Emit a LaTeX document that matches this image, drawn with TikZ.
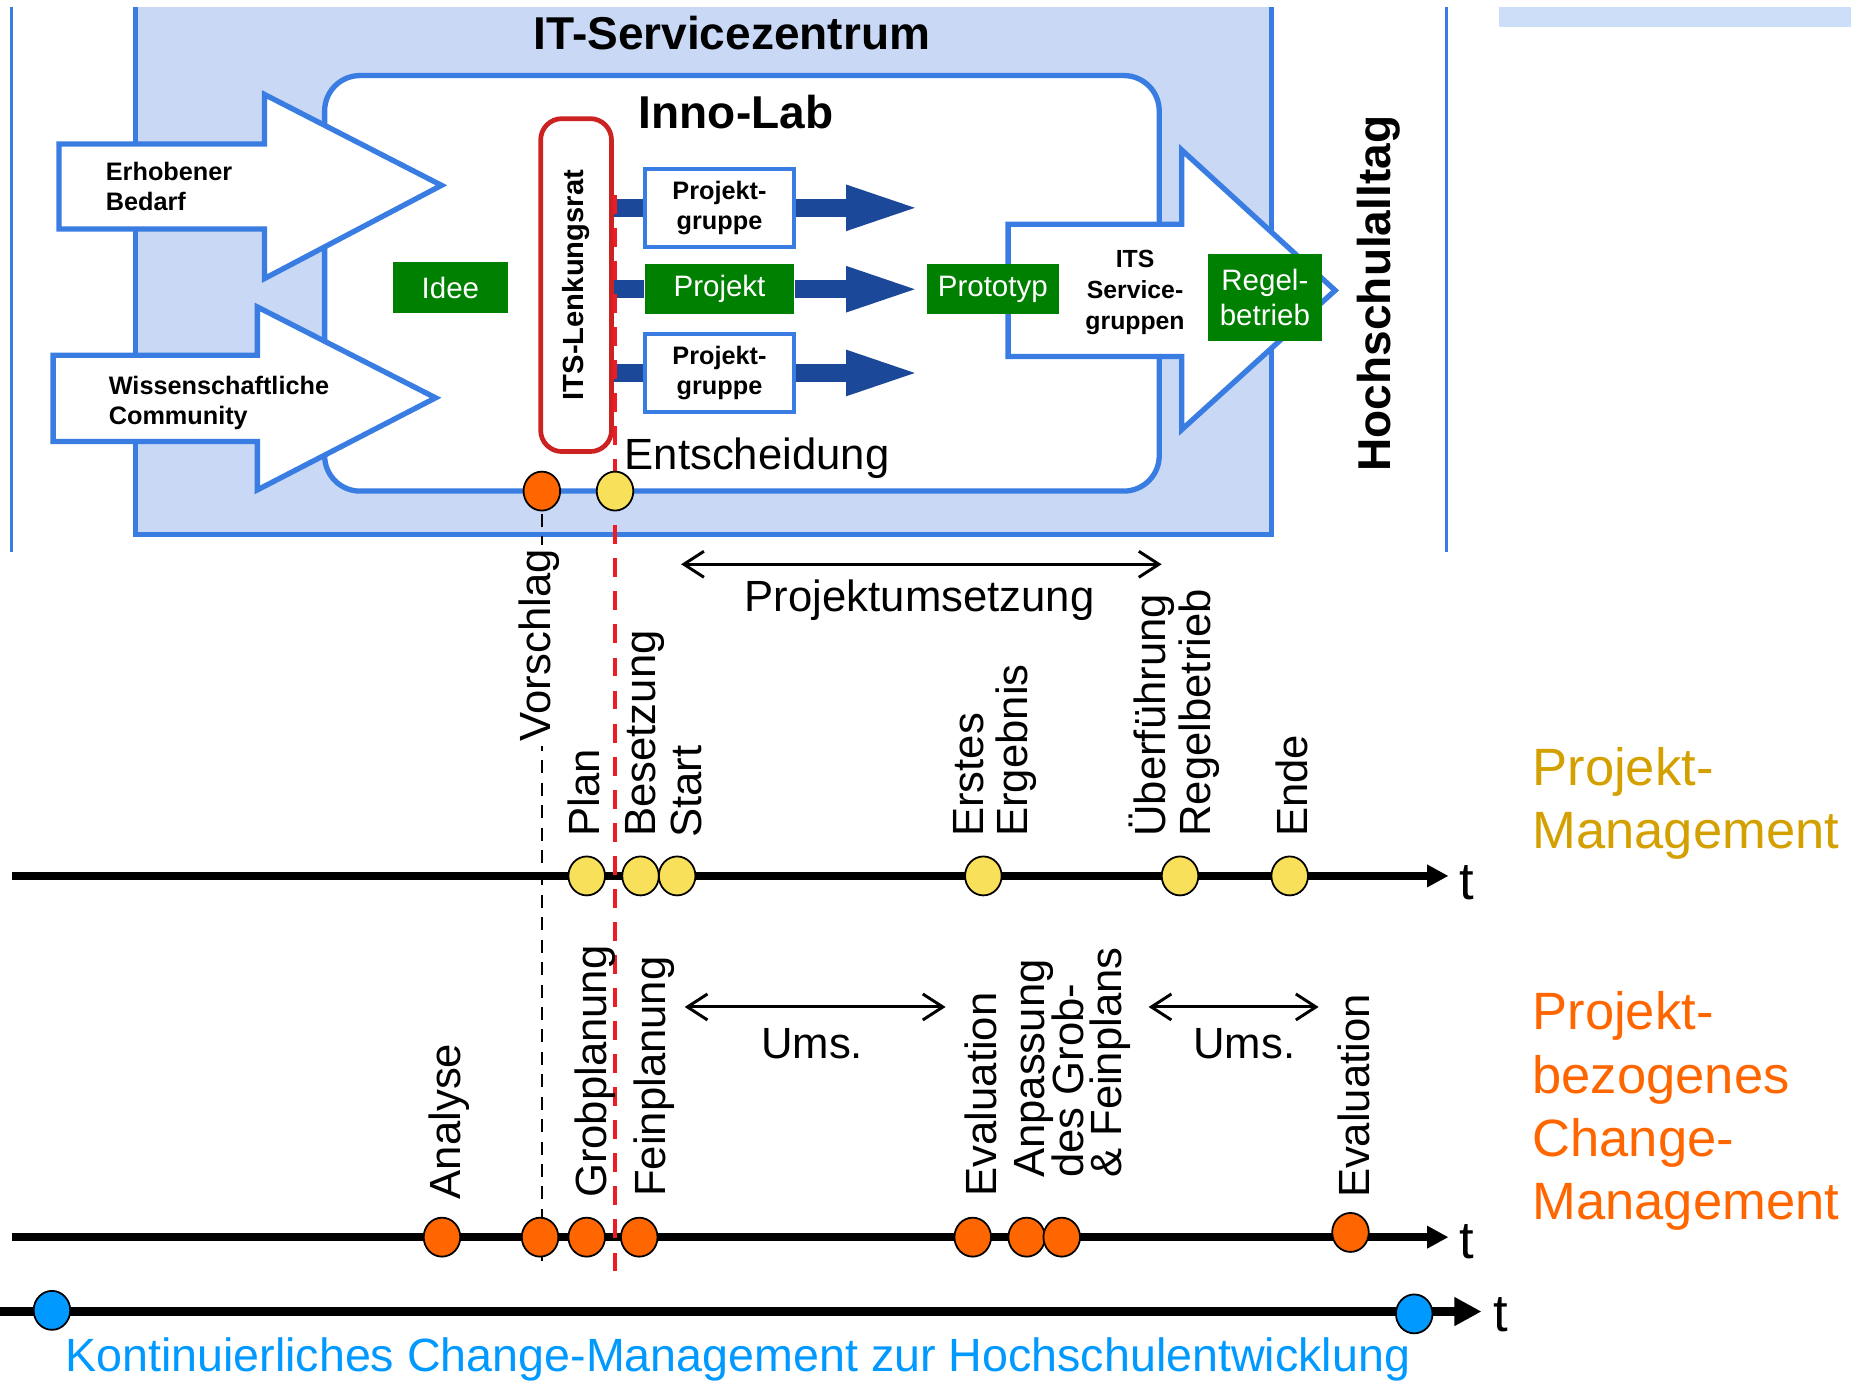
\documentclass[tikz,border=0pt]{standalone}
\usepackage{fontspec}
\setmainfont{Liberation Sans}
\usepackage{graphicx}
\usetikzlibrary{positioning, arrows.meta, shapes.geometric}

\newcommand\setfs[2]{\fontsize{#1}{#2}\selectfont\lineskiplimit=-100pt\relax}

\definecolor{itsblue}{RGB}{58,125,226}
\definecolor{itsfill}{RGB}{200,216,245}
\definecolor{stripblue}{RGB}{205,223,248}
\definecolor{pgblue}{RGB}{28,72,153}
\definecolor{itsgreen}{RGB}{0,128,0}
\definecolor{lrred}{RGB}{204,34,34}
\definecolor{decred}{RGB}{237,28,36}
\definecolor{pmyellow}{RGB}{249,224,90}
\definecolor{cmorange}{RGB}{255,102,0}
\definecolor{kcmblue}{RGB}{0,153,255}
\definecolor{pmgold}{RGB}{212,160,0}

\tikzset{
  itsline/.style={draw=itsblue, line width=4.5pt},
  blockarrow/.style={itsline, fill=white, line join=miter},
  hdr/.style={font=\bfseries\setfs{39}{39}, inner sep=0pt},
  smallbold/.style={font=\bfseries\setfs{21.4}{25.8}, inner sep=0pt, align=left},
  greenbox/.style={fill=itsgreen, text=white, font=\setfs{25}{30}, inner sep=0pt, align=center},
  groupbox/.style={draw=itsblue, line width=3.5pt, fill=white, font=\bfseries\setfs{21.4}{25.8},
    align=center, inner sep=0pt, minimum width=126pt, minimum height=66pt},
  pgshaft/.style={draw=pgblue, line width=15pt},
  pgarrow/.style={pgshaft, -{Triangle[length=64pt, width=34pt]}, shorten >=4pt},
  timeline/.style={line width=7pt, -{Triangle[length=18pt, width=18pt]}},
  tldot/.style={ellipse, draw, line width=1.5pt, minimum width=31pt, minimum height=33pt, inner sep=0pt},
  pmdot/.style={tldot, fill=pmyellow},
  cmdot/.style={tldot, fill=cmorange},
  kcmdot/.style={tldot, fill=kcmblue},
  lbl/.style={font=\setfs{37}{37}, inner sep=0pt},
  vlbl/.style={lbl, rotate=90, anchor=base west, align=left},
  spanarrow/.style={line width=2.5pt, {Straight Barb[length=17pt, width=22pt]}-{Straight Barb[length=17pt, width=22pt]}},
  phase/.style={font=\setfs{44.5}{53.5}, inner sep=0pt, align=left, anchor=base west},
  tlbl/.style={font=\setfs{44.5}{44.5}, inner sep=0pt, anchor=base west},
}

\begin{document}
\begin{tikzpicture}[x=1pt, y=-1pt]
  \useasboundingbox (0,0) rectangle (1568,1170);
  \fill[stripblue] (1270,6) rectangle (1568,23);
  \draw[itsline, line width=2.5pt] (10,6) -- (10,468);
  \draw[itsline, line width=2.5pt] (1225,6) -- (1225,468);

  \node (itsz) [fill=itsfill, minimum width=962.5pt, minimum height=447pt, anchor=north west, outer sep=0pt] at (114.5,6) {};
  \draw[itsline] (itsz.north west) -- (itsz.south west) -- (itsz.south east) -- (itsz.north east);
  \node (inno) [itsline, fill=white, rounded corners=30pt, minimum width=707pt, minimum height=352pt,
    anchor=north west, outer sep=0pt] at (275,64) {};
  \node (itsztitle) [hdr, anchor=base] at (620,42) {IT-Servicezentrum};
  \node (innotitle) [hdr, anchor=base] at (623.5,109) {Inno-Lab};

  \draw[blockarrow] (50,122) -- (224,122) -- (224,80) -- (374,157) -- (224,236) -- (224,194) -- (50,194) -- cycle;
  \draw[blockarrow] (45,301) -- (218,301) -- (218,260) -- (369,337) -- (218,415) -- (218,374) -- (45,374) -- cycle;
  \draw[blockarrow] (854,190) -- (1001,190) -- (1001,127) -- (1131,246) -- (1001,364) -- (1001,302) -- (854,302) -- cycle;
  \node (bedarf) [smallbold, anchor=base west] at (89.5,178.5) {Erhobener\\Bedarf};
  \node (community) [smallbold, anchor=base west] at (92,360) {Wissenschaftliche\\Community};
  \node (itsgrp) [smallbold, align=center, anchor=base, font=\bfseries\setfs{21}{26}] at (961.5,279) {ITS\\Service-\\gruppen};

  \node (idee) [greenbox, minimum width=97pt, minimum height=43pt] at (381.5,243.5) {Idee};
  \node (lr) [draw=lrred, line width=4pt, fill=white, rounded corners=18pt, minimum width=60pt, minimum height=282pt,
    font=\bfseries\setfs{24.7}{25}, inner sep=0pt] at (488,241.5) {\rotatebox{90}{ITS-Lenkungsrat}};
  \node (proj) [greenbox, minimum width=127pt, minimum height=42pt] at (609.5,245) {Projekt};
  \node (pg1) [groupbox, above=13pt of proj] {Projekt-\\gruppe};
  \node (pg2) [groupbox, below=15pt of proj] {Projekt-\\gruppe};
  \node (proto) [greenbox, minimum width=112pt, minimum height=42pt] at (841,245) {Prototyp};
  \node (regel) [greenbox, minimum width=97pt, minimum height=74pt] at (1071.5,252) {Regel-\\betrieb};

  \foreach \g in {pg1, proj, pg2} {
    \draw[pgshaft] (lr.east |- \g) -- (\g.west);
    \draw[pgarrow] (\g.east) -- (proto.west |- \g);
  }

  \node (alltag) [hdr, rotate=90, anchor=base west] at (1177.5,399.5) {Hochschulalltag};
  \node (entsch) [lbl, anchor=base west] at (529,398) {Entscheidung};

  \coordinate (vorx) at (459,416);
  \coordinate (vorend) at (459,1068);
  \coordinate (decx) at (521,165);
  \coordinate (decend) at (521,1078);
  \draw[line width=2.2pt, dash pattern=on 11pt off 8pt] (vorx) -- (vorend);

  \coordinate (pmL) at (10,742);
  \coordinate (pmR) at (1227,742);
  \coordinate (cmL) at (10,1048);
  \coordinate (cmR) at (1227,1048);
  \coordinate (kcmL) at (0,1111);
  \coordinate (kcmR) at (1255,1111);
  \draw[timeline] (pmL) -- (pmR);
  \draw[timeline] (cmL) -- (cmR);
  \draw[line width=7.5pt, -{Triangle[length=23pt, width=23pt]}] (kcmL) -- (kcmR);
  \draw[decred, line width=4pt, dash pattern=on 16pt off 12pt] (decx) -- (decend);

  \node (vorschlag) [vlbl, fill=white, inner xsep=4pt, inner ysep=10pt] at (466,632) {Vorschlag};

  \node (vordot) [cmdot] at (vorx) {};
  \node (entdot) [pmdot] at (521,416) {};
  \foreach \x [count=\i] in {497,542.6,573.6,833,999.6,1092.5}
    \node (pm\i) [pmdot] at (\x,742) {};
  \foreach \x [count=\i] in {374.4,457.5,497,541.5,824,869.7,899.4}
    \node (cm\i) [cmdot] at (\x,1048) {};
  \node (cm8) [cmdot] at (1144,1044) {};
  \node (kcm1) [kcmdot] at (44,1110) {};
  \node (kcm2) [kcmdot] at (1198,1113) {};

  \node (lplan) [vlbl] at (508,709) {Plan};
  \node (lbesetz) [vlbl] at (555,709) {Besetzung};
  \node (lstart) [vlbl] at (594.4,710) {Start};
  \node (lerstes) [vlbl] at (870.3,709) {Erstes\\Ergebnis};
  \node (luebergang) [vlbl, font=\setfs{37}{38}] at (1025,709) {Überführung\\Regelbetrieb};
  \node (lende) [vlbl] at (1108,709) {Ende};
  \node (lanalyse) [vlbl] at (389.7,1016) {Analyse};
  \node (lgrob) [vlbl] at (514,1015) {Grobplanung};
  \node (lfein) [vlbl] at (564,1014) {Feinplanung};
  \node (leval) [vlbl] at (844.3,1013.7) {Evaluation};
  \node (lanpass) [vlbl, font=\setfs{37}{32.5}] at (950.2,998) {Anpassung\\des Grob-\\\& Feinplans};
  \node (leval2) [vlbl] at (1160,1015) {Evaluation};

  \node (pmt) [tlbl] at (1236,762) {t};
  \node (cmt) [tlbl] at (1236,1066) {t};
  \node (kcmt) [tlbl] at (1265,1128) {t};

  \coordinate (puL) at (577,478);
  \coordinate (puR) at (984,478);
  \draw[spanarrow] (puL) -- (puR);
  \node (pu) [lbl, anchor=base] at (779,518) {Projektumsetzung};
  \coordinate (ums1L) at (580,853);
  \coordinate (ums1R) at (801,853);
  \draw[spanarrow] (ums1L) -- (ums1R);
  \node (ums1) [lbl, anchor=base] at (688,897) {Ums.};
  \coordinate (ums2L) at (973,853);
  \coordinate (ums2R) at (1117,853);
  \draw[spanarrow] (ums2L) -- (ums2R);
  \node (ums2) [lbl, anchor=base] at (1054,897) {Ums.};

  \node (pmlabel) [phase, text=pmgold] at (1298,718.6) {Projekt-\\Management};
  \node (cmlabel) [phase, text=cmorange] at (1298,1033) {Projekt-\\bezogenes\\Change-\\Management};
  \node (kcmlabel) [lbl, font=\setfs{39.5}{40}, text=kcmblue, anchor=base west] at (55,1162)
    {Kontinuierliches Change-Management zur Hochschulentwicklung};
\end{tikzpicture}
\end{document}
